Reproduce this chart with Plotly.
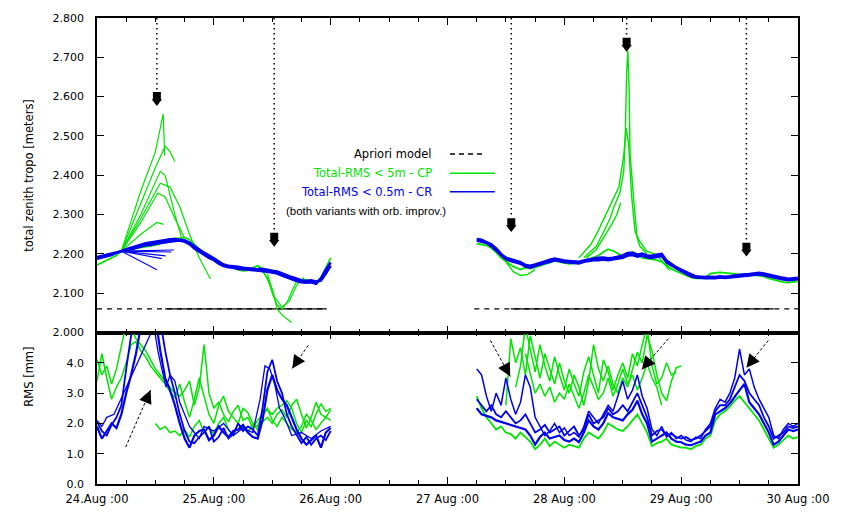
import plotly.graph_objects as go

# ---------------- data ----------------
# time axis: hours after 24 Aug 00:00
HOURS_A = list(range(0, 49))      # first processing window
HOURS_B = list(range(78, 145))    # second processing window

DAY_TICKS = [0, 24, 48, 72, 96, 120, 144]
DAY_LABELS = ["24.Aug :00", "25.Aug :00", "26.Aug :00", "27 Aug :00",
              "28 Aug :00", "29 Aug :00", "30 Aug :00"]
SIX_HOUR_TICKS = [6, 12, 18, 30, 36, 42, 54, 60, 66, 78, 84, 90,
                  102, 108, 114, 126, 132, 138]
TROPO_TICKS = [2.0, 2.1, 2.2, 2.3, 2.4, 2.5, 2.6, 2.7, 2.8]
TROPO_LABELS = ["2.000", "2.100", "2.200", "2.300", "2.400", "2.500", "2.600", "2.700", "2.800"]
RMS_TICKS = [0, 1, 2, 3, 4]
RMS_LABELS = ["0.0", "1.0", "2.0", "3.0", "4.0"]

# total zenith troposphere [m], CR solutions (blue), window A
tropo_cr_a1 = [2.188, 2.191, 2.195, 2.197, 2.203, 2.207, 2.208, 2.212, 2.215, 2.219,
               2.222, 2.223, 2.226, 2.228, 2.229, 2.232, 2.233, 2.234, 2.231, 2.225,
               2.214, 2.206, 2.197, 2.190, 2.184, 2.175, 2.169, 2.166, 2.165, 2.162,
               2.161, 2.160, 2.158, 2.158, 2.157, 2.155, 2.153, 2.150, 2.145, 2.140,
               2.135, 2.131, 2.128, 2.127, 2.128, 2.124, 2.138, 2.160, 2.178]
tropo_cr_a2 = [2.192, 2.195, 2.199, 2.202, 2.205, 2.207, 2.212, 2.216, 2.220, 2.223,
               2.227, 2.229, 2.231, 2.234, 2.236, 2.237, 2.238, 2.237, 2.235, 2.229,
               2.220, 2.210, 2.203, 2.196, 2.188, 2.180, 2.173, 2.170, 2.169, 2.167,
               2.165, 2.164, 2.163, 2.161, 2.162, 2.159, 2.157, 2.155, 2.151, 2.146,
               2.141, 2.136, 2.133, 2.131, 2.133, 2.130, 2.132, 2.150, 2.170]
# CP solutions (green), window A
tropo_cp_a1 = [2.172, 2.178, 2.185, 2.190, 2.196, 2.207, 2.210, 2.212, 2.214, 2.216,
               2.218, 2.220, 2.222, 2.226, 2.232, 2.236, 2.240, 2.240, 2.242, 2.236,
               2.225, 2.210, 2.200, 2.192, 2.190, 2.180, 2.172, 2.168, 2.163, 2.160,
               2.157, 2.158, 2.165, 2.170, 2.162, 2.155, 2.158, 2.152, 2.146, 2.140,
               2.136, 2.130, 2.132, 2.135, 2.131, 2.127, 2.140, 2.165, 2.190]

# short CR runs ending early in window A (start at hour 5)
cr_fan_end_hours = [15.8, 15.3, 14.1, 13.3, 12.3]
cr_fan_end_values = [2.210, 2.205, 2.195, 2.188, 2.160]

# CP runs running away on 24 Aug
cp_peak_hours = [[5, 9, 12, 13.6, 13.9],
                 [5, 9, 12, 14, 15, 16],
                 [5, 9, 13, 14, 16, 17.5],
                 [5, 9, 13, 15, 17, 19, 21, 23.3],
                 [5, 9, 12.5, 14, 16, 18],
                 [5, 9, 12.3, 13.7]]
cp_peak_values = [[2.207, 2.36, 2.46, 2.556, 2.45],
                  [2.207, 2.33, 2.42, 2.474, 2.46, 2.435],
                  [2.207, 2.30, 2.41, 2.40, 2.30, 2.235],
                  [2.207, 2.29, 2.38, 2.37, 2.32, 2.25, 2.19, 2.136],
                  [2.207, 2.28, 2.355, 2.345, 2.29, 2.24],
                  [2.207, 2.25, 2.28, 2.275]]
# CP runs dropping on 25 Aug
cp_dip_hours = [[33, 35, 36, 37, 38, 39, 40, 41],
                [34, 36, 37, 38, 39, 40],
                [35, 36.5, 38, 39.5, 41, 42.5]]
cp_dip_values = [[2.17, 2.14, 2.10, 2.07, 2.06, 2.075, 2.105, 2.13],
                 [2.16, 2.11, 2.06, 2.045, 2.035, 2.025],
                 [2.15, 2.09, 2.065, 2.08, 2.12, 2.14]]

# window B
tropo_cr_b1 = [2.234, 2.231, 2.228, 2.220, 2.209, 2.196, 2.186, 2.182, 2.178, 2.175,
               2.168, 2.165, 2.169, 2.174, 2.177, 2.180, 2.184, 2.182, 2.179, 2.178,
               2.177, 2.176, 2.180, 2.182, 2.184, 2.184, 2.186, 2.184, 2.186, 2.188,
               2.190, 2.196, 2.197, 2.193, 2.196, 2.191, 2.190, 2.192, 2.195, 2.178,
               2.170, 2.162, 2.156, 2.150, 2.143, 2.140, 2.139, 2.138, 2.139, 2.138,
               2.140, 2.139, 2.140, 2.141, 2.142, 2.144, 2.145, 2.147, 2.148, 2.146,
               2.143, 2.140, 2.138, 2.135, 2.133, 2.135, 2.136]
tropo_cr_b2 = [2.238, 2.236, 2.230, 2.224, 2.214, 2.200, 2.190, 2.186, 2.183, 2.179,
               2.172, 2.170, 2.173, 2.178, 2.181, 2.185, 2.188, 2.186, 2.183, 2.182,
               2.181, 2.180, 2.183, 2.186, 2.188, 2.190, 2.191, 2.189, 2.190, 2.193,
               2.196, 2.202, 2.203, 2.198, 2.201, 2.196, 2.195, 2.198, 2.200, 2.183,
               2.174, 2.166, 2.160, 2.154, 2.147, 2.143, 2.142, 2.141, 2.142, 2.141,
               2.143, 2.142, 2.143, 2.145, 2.146, 2.148, 2.149, 2.151, 2.152, 2.150,
               2.147, 2.144, 2.141, 2.139, 2.137, 2.138, 2.139]
tropo_cp_b1 = [2.226, 2.224, 2.222, 2.215, 2.204, 2.190, 2.180, 2.172, 2.165, 2.160,
               2.165, 2.163, 2.166, 2.171, 2.174, 2.178, 2.182, 2.180, 2.177, 2.175,
               2.176, 2.178, 2.182, 2.186, 2.190, 2.196, 2.205, 2.212, 2.208, 2.200,
               2.194, 2.198, 2.205, 2.200, 2.190, 2.188, 2.186, 2.184, 2.180, 2.170,
               2.162, 2.156, 2.150, 2.145, 2.140, 2.138, 2.138, 2.140, 2.150, 2.152,
               2.153, 2.152, 2.151, 2.150, 2.148, 2.146, 2.145, 2.146, 2.145, 2.143,
               2.138, 2.135, 2.132, 2.128, 2.127, 2.129, 2.130]
cp_low_hours = [84, 85.5, 87, 88.5, 90]
cp_low_values = [2.18, 2.155, 2.145, 2.148, 2.16]
# CP runs during the 28/29 Aug storm
cp_spike_hours = [[100, 102.6, 104.1, 105.4, 106.2, 107.4, 108.2, 108.5, 108.8, 109.05,
                   109.3, 109.5, 110.3, 110.9, 111.5, 112.9, 115, 117.6],
                  [99, 101.5, 103, 104.5, 106, 107.2, 108.2, 108.7, 109.2, 109.8,
                   110.5, 111.5, 113],
                  [100.5, 102.5, 104, 105.5, 106.8, 107.6]]
cp_spike_values = [[2.19, 2.22, 2.257, 2.29, 2.32, 2.355, 2.41, 2.49, 2.66, 2.716,
                    2.62, 2.454, 2.33, 2.247, 2.232, 2.207, 2.198, 2.158],
                   [2.19, 2.225, 2.26, 2.30, 2.34, 2.37, 2.45, 2.52, 2.48, 2.35,
                    2.26, 2.22, 2.20],
                   [2.19, 2.21, 2.24, 2.27, 2.30, 2.33]]

# a priori model
APRIORI_LEVEL = 2.06
apriori_spans = [[0, 47.2], [77.5, 144]]
apriori_overlap_spans = [[14, 47.2], [85, 139]]

# RMS [mm], window A
rms_cr_a1 = [1.90, 1.50, 1.75, 2.00, 1.85, 2.30, 3.00, 3.60, 4.30, 5.20,
             5.60, 5.80, 5.50, 4.40, 3.50, 3.10, 2.60, 2.00, 1.50, 1.20,
             1.60, 1.75, 1.80, 1.45, 1.60, 1.90, 1.70, 1.55, 1.75, 1.80,
             1.95, 1.70, 1.55, 1.50, 2.10, 3.10, 3.60, 3.10, 2.80, 2.60,
             2.20, 1.80, 1.50, 1.30, 1.45, 1.60, 1.20, 1.70, 1.85]
rms_cr_a2 = [2.05, 1.75, 1.60, 1.95, 2.20, 2.60, 3.80, 4.90, 5.50, 5.60,
             5.40, 5.30, 5.60, 5.40, 4.40, 3.60, 3.00, 2.30, 1.75, 1.40,
             1.35, 1.55, 1.70, 1.90, 1.40, 1.55, 1.85, 1.50, 1.65, 2.00,
             1.75, 1.90, 1.80, 1.60, 2.50, 3.70, 4.10, 3.40, 3.00, 2.30,
             1.90, 1.60, 1.35, 1.55, 1.30, 1.50, 1.60, 1.45, 1.75]
rms_cr_a3_hours = [0, 1, 2, 3.5, 11.7, 12.5, 13.3, 14.2, 15, 16, 17, 18, 19, 20, 21, 22,
                   24, 26, 28, 30, 32, 33.5, 34.5, 35.5, 36.5, 37.5, 38.5, 40, 42, 44, 46, 48]
rms_cr_a3 = [2.10, 1.90, 2.20, 2.30, 5.20, 4.40, 3.80, 3.20, 3.60, 3.40, 2.70, 2.30, 1.90, 1.70, 1.50, 1.90,
             1.75, 2.00, 1.60, 1.85, 1.70, 2.80, 3.90, 3.80, 3.30, 2.50, 2.20, 1.60, 1.70, 1.50, 1.75, 1.90]
rms_cp_a1 = [4.10, 3.60, 3.90, 3.30, 3.80, 4.50, 5.30, 5.10, 4.80, 4.60,
             4.40, 4.10, 3.80, 3.60, 3.40, 3.20, 3.00, 2.90, 3.10, 3.40,
             2.60, 3.20, 4.60, 3.00, 2.50, 2.70, 2.30, 2.05, 2.40, 2.60,
             2.10, 2.20, 1.85, 2.10, 2.30, 2.45, 2.30, 2.50, 2.60, 2.75,
             2.50, 2.00, 1.70, 2.10, 1.90, 2.30, 2.65, 2.40, 2.50]
rms_cp_a2 = [3.40, 4.30, 3.50, 2.80, 3.20, 3.50, 4.00, 4.60, 4.70, 4.40,
             4.20, 3.90, 3.70, 3.50, 3.30, 3.05, 2.85, 3.30, 2.70, 2.20,
             2.80, 3.50, 2.90, 2.30, 2.00, 2.60, 2.90, 2.40, 2.20, 2.00,
             2.50, 2.35, 2.00, 1.80, 2.05, 2.20, 2.00, 2.30, 2.45, 2.20,
             2.60, 2.80, 2.30, 1.85, 2.20, 2.70, 2.30, 2.20, 2.45]
rms_cp_a3_hours = list(range(12, 49))
rms_cp_a3 = [2.00, 1.80, 1.90, 1.70, 1.75, 1.60, 1.80, 1.55, 1.90, 2.10,
             1.70, 1.90, 1.65, 2.00, 2.20, 1.80, 1.60, 2.00, 1.85, 1.70,
             2.00, 1.90, 2.30, 2.50, 2.10, 1.90, 2.20, 2.00, 1.80, 1.70,
             1.90, 2.30, 2.10, 1.80, 2.00, 2.20, 2.10]

# RMS [mm], window B
rms_cr_b1 = [2.50, 2.30, 2.25, 2.20, 2.10, 2.05, 2.00, 1.95, 1.90, 1.85,
             1.80, 1.60, 1.30, 1.55, 1.70, 1.50, 1.55, 1.60, 1.45, 1.40,
             1.50, 1.38, 1.70, 2.10, 1.90, 1.80, 2.00, 2.34, 2.20, 2.15,
             2.10, 2.30, 2.45, 2.75, 2.30, 2.00, 1.40, 1.50, 1.60, 1.70,
             1.50, 1.40, 1.38, 1.30, 1.28, 1.35, 1.40, 1.60, 1.70, 2.30,
             2.40, 2.50, 2.66, 2.90, 3.10, 3.30, 2.70, 2.50, 2.30, 2.00,
             1.70, 1.30, 1.40, 1.60, 1.80, 1.75, 1.80]
rms_cr_b2 = [3.80, 3.60, 2.90, 2.40, 3.00, 2.60, 3.50, 2.80, 2.30, 2.70,
             3.60, 3.20, 2.20, 1.90, 1.60, 1.75, 2.00, 1.70, 1.85, 1.60,
             1.70, 1.55, 1.90, 2.40, 2.20, 2.00, 2.30, 2.60, 2.40, 2.90,
             3.40, 2.80, 3.10, 3.60, 2.90, 2.50, 1.80, 1.60, 1.90, 1.55,
             1.70, 1.50, 1.60, 1.45, 1.40, 1.55, 1.50, 1.80, 2.00, 2.50,
             2.80, 2.70, 3.00, 3.50, 4.45, 3.60, 3.80, 3.20, 2.80, 2.50,
             2.20, 1.60, 1.50, 1.80, 2.00, 1.90, 2.00]
rms_cr_b3 = [2.80, 2.60, 2.40, 2.60, 2.30, 2.20, 2.40, 2.20, 2.00, 2.10,
             2.30, 2.00, 1.70, 1.80, 1.95, 1.70, 1.80, 1.90, 1.60, 1.75,
             1.90, 1.60, 1.80, 2.30, 2.00, 2.10, 2.20, 2.50, 2.30, 2.40,
             2.60, 2.40, 2.70, 3.00, 2.60, 2.20, 1.60, 1.75, 1.80, 1.60,
             1.65, 1.55, 1.50, 1.55, 1.45, 1.50, 1.60, 1.75, 1.90, 2.40,
             2.60, 2.60, 2.80, 3.20, 3.60, 3.40, 3.00, 2.80, 2.60, 2.20,
             1.90, 1.50, 1.60, 1.70, 1.90, 1.85, 1.90]
rms_cp_b1 = [2.90, 2.50, 2.20, 2.00, 1.80, 1.90, 1.70, 1.65, 1.50, 1.70,
             1.55, 1.40, 1.15, 1.30, 1.50, 1.25, 1.40, 1.30, 1.20, 1.30,
             1.25, 1.20, 1.50, 1.70, 1.60, 1.50, 1.70, 2.00, 1.90, 1.80,
             1.75, 1.90, 2.10, 2.30, 2.00, 1.70, 1.25, 1.35, 1.40, 1.50,
             1.30, 1.25, 1.20, 1.20, 1.15, 1.25, 1.30, 1.50, 1.60, 2.10,
             2.30, 2.40, 2.55, 2.75, 2.90, 2.70, 2.50, 2.30, 2.10, 1.80,
             1.50, 1.20, 1.30, 1.45, 1.60, 1.50, 1.55]
rms_cp_b2_hours = list(range(84, 121))
rms_cp_b2 = [2.60, 4.80, 4.00, 4.50, 3.60, 4.90, 4.20, 3.50, 4.30, 3.80,
             3.30, 4.00, 3.40, 3.00, 3.60, 3.20, 2.60, 3.40, 4.60, 3.80,
             3.40, 3.90, 3.30, 3.00, 3.50, 3.20, 3.80, 4.35, 4.00, 4.90,
             4.40, 3.60, 3.00, 2.75, 3.40, 3.84, 3.90]
rms_cp_b3_hours = list(range(86, 120))
rms_cp_b3 = [3.20, 3.90, 5.20, 4.40, 3.70, 4.60, 3.90, 3.40, 4.20, 3.60,
             3.10, 3.80, 3.30, 2.90, 3.70, 4.20, 3.60, 3.00, 4.10, 3.70,
             3.10, 3.60, 4.00, 3.50, 4.30, 3.90, 4.60, 5.20, 3.90, 3.30,
             3.50, 4.00, 3.60, 3.70]
rms_cp_b4_hours = list(range(88, 117))
rms_cp_b4 = [4.30, 3.60, 3.00, 3.30, 2.90, 3.20, 2.70, 3.00, 2.80, 3.30,
             2.90, 2.50, 3.00, 3.60, 3.20, 2.80, 3.00, 3.50, 2.90, 3.30,
             3.80, 3.30, 3.60, 3.10, 3.50, 4.00, 3.50, 3.20, 2.60]

# events: hour and tropo level of the marker tip
event_hours = [12.3, 36.4, 85.1, 108.8, 133.4]
event_tips = [2.578, 2.220, 2.257, 2.716, 2.195]
# RMS pointers: tail (hour, mm) -> head (hour, mm)
pointer_tails = [(5.9, 1.22), (43.4, 4.58), (80.8, 4.74), (117.4, 4.80), (137.9, 4.74)]
pointer_heads = [(11.0, 3.10), (40.1, 3.81), (84.9, 3.55), (111.9, 3.78), (133.4, 3.84)]

# ---------------- styling / geometry ----------------
GREEN = "rgb(0,228,0)"
BLUE = "rgb(0,0,238)"
W, H = 841, 518
ML, MR, MT, MB = 97, 39, 13, 25
PW = W - ML - MR
PH = H - MT - MB
SPLIT = 0.325
TOP_PX_PER_UNIT = PH * (1 - SPLIT) / 0.8
BOT_PX_PER_MM = PH * SPLIT / 5.0
PX_PER_HOUR = PW / 144.0
TICK_FONT = dict(family="DejaVu Sans", size=11, color="black")


def paper_x(px):
    return (px - ML) / PW


def paper_y(py):
    return (H - MB - py) / PH


fig = go.Figure()


def add_line(x, y, color, width, panel="top", dash=None):
    xa, ya = ("x", "y") if panel == "top" else ("x2", "y2")
    fig.add_trace(go.Scatter(x=x, y=y, mode="lines",
                             line=dict(color=color, width=width, dash=dash),
                             xaxis=xa, yaxis=ya, showlegend=False, hoverinfo="skip"))


# a priori model
for a, b in apriori_spans:
    add_line([a, b], [APRIORI_LEVEL, APRIORI_LEVEL], "black", 1.3, dash="5px,5px")
for a, b in apriori_overlap_spans:
    add_line([a, b], [APRIORI_LEVEL, APRIORI_LEVEL], "black", 1.3)

# ---- top panel: CP (green) first, CR (blue) on top ----
add_line(HOURS_A, tropo_cp_a1, GREEN, 1.6)
for hh, vv in zip(cp_peak_hours, cp_peak_values):
    add_line(hh, vv, GREEN, 1.2)
for hh, vv in zip(cp_dip_hours, cp_dip_values):
    add_line(hh, vv, GREEN, 1.2)
add_line(HOURS_B, tropo_cp_b1, GREEN, 1.8)
add_line(cp_low_hours, cp_low_values, GREEN, 1.4)
for hh, vv in zip(cp_spike_hours, cp_spike_values):
    add_line(hh, vv, GREEN, 1.4)

for eh, ev in zip(cr_fan_end_hours, cr_fan_end_values):
    add_line([HOURS_A[5], eh], [tropo_cr_a1[5], ev], BLUE, 1.1)
add_line(HOURS_A, tropo_cr_a1, BLUE, 2.6)
add_line(HOURS_A, tropo_cr_a2, BLUE, 2.6)
add_line(HOURS_B, tropo_cr_b1, BLUE, 2.6)
add_line(HOURS_B, tropo_cr_b2, BLUE, 2.6)

# ---- bottom panel: RMS ----
add_line(HOURS_A, rms_cp_a1, GREEN, 1.5, "bot")
add_line(HOURS_A, rms_cp_a2, GREEN, 1.5, "bot")
add_line(rms_cp_a3_hours, rms_cp_a3, GREEN, 1.5, "bot")
add_line(HOURS_B, rms_cp_b1, GREEN, 1.8, "bot")
add_line(rms_cp_b2_hours, rms_cp_b2, GREEN, 1.5, "bot")
add_line(rms_cp_b3_hours, rms_cp_b3, GREEN, 1.5, "bot")
add_line(rms_cp_b4_hours, rms_cp_b4, GREEN, 1.5, "bot")

add_line(rms_cr_a3_hours, rms_cr_a3, BLUE, 1.3, "bot")
add_line(HOURS_A, rms_cr_a2, BLUE, 1.8, "bot")
add_line(HOURS_A, rms_cr_a1, BLUE, 2.2, "bot")
add_line(HOURS_B, rms_cr_b2, BLUE, 1.5, "bot")
add_line(HOURS_B, rms_cr_b3, BLUE, 1.8, "bot")
add_line(HOURS_B, rms_cr_b1, BLUE, 2.2, "bot")

# ---- event markers: dotted line from the top down to a pointer ----
unit = 1.0 / TOP_PX_PER_UNIT
shapes = []
for eh, tip in zip(event_hours, event_tips):
    shapes.append(dict(type="line", xref="x", yref="y", x0=eh, x1=eh,
                       y0=2.8, y1=tip + 14 * unit,
                       line=dict(color="black", width=1.5, dash="1.5px,3.5px")))
fig.add_trace(go.Scatter(x=event_hours, y=[t + 9.5 * unit for t in event_tips], mode="markers",
                         marker=dict(symbol="square", size=8, color="black"),
                         xaxis="x", yaxis="y", showlegend=False, hoverinfo="skip"))
fig.add_trace(go.Scatter(x=event_hours, y=[t + 4 * unit for t in event_tips], mode="markers",
                         marker=dict(symbol="triangle-down", size=9, color="black"),
                         xaxis="x", yaxis="y", showlegend=False, hoverinfo="skip"))

# ---- RMS pointers: dashed shaft plus filled head ----
annotations = []
for (th, tv), (hh, hv) in zip(pointer_tails, pointer_heads):
    shapes.append(dict(type="line", xref="x2", yref="y2", x0=th, y0=tv, x1=hh, y1=hv,
                       line=dict(color="black", width=1, dash="3px,2px")))
    dx = (th - hh) * PX_PER_HOUR
    dy = (tv - hv) * BOT_PX_PER_MM
    n = (dx * dx + dy * dy) ** 0.5
    annotations.append(dict(x=hh, y=hv, xref="x2", yref="y2", text="", showarrow=True,
                            ax=dx / n * 13, ay=-dy / n * 13, arrowhead=2, arrowsize=1.1,
                            arrowwidth=2.4, arrowcolor="black"))

# heavy separator between the panels
shapes.append(dict(type="line", xref="paper", yref="paper", x0=0, x1=1, y0=SPLIT, y1=SPLIT,
                   line=dict(color="black", width=3)))

# ---- key ----
key_rows = [("Apriori model", "black", 153, "5px,4px"),
            ("Total-RMS < 5m - CP", GREEN, 173, None),
            ("Total-RMS < 0.5m - CR", BLUE, 192, None)]
for text, col, py, dash in key_rows:
    annotations.append(dict(x=paper_x(436), y=paper_y(py), xref="paper", yref="paper",
                            text=text, showarrow=False, xanchor="right", yanchor="middle",
                            font=dict(family="DejaVu Sans", size=11.5, color=col)))
    shapes.append(dict(type="line", xref="paper", yref="paper",
                       x0=paper_x(452), x1=paper_x(488 if dash else 497),
                       y0=paper_y(py), y1=paper_y(py),
                       line=dict(color=col, width=1.5, dash=dash)))
annotations.append(dict(x=paper_x(368), y=paper_y(212), xref="paper", yref="paper",
                        text="(both variants with orb. improv.)", showarrow=False,
                        xanchor="center", yanchor="middle",
                        font=dict(family="Liberation Sans", size=11.5, color="black")))

# axis titles
annotations.append(dict(x=paper_x(20), y=paper_y(175), xref="paper", yref="paper",
                        text="total zenith tropo [meters]", textangle=-90, showarrow=False,
                        font=dict(family="DejaVu Sans", size=11.5, color="black")))
annotations.append(dict(x=paper_x(20), y=paper_y(415), xref="paper", yref="paper",
                        text="RMS [mm]", textangle=-90, showarrow=False,
                        font=dict(family="DejaVu Sans", size=11.5, color="black")))

axis_common = dict(showline=True, linecolor="black", linewidth=1.5, mirror="ticks",
                   ticks="inside", tickcolor="black", tickwidth=1.2, showgrid=False,
                   zeroline=False, tickfont=TICK_FONT)
minor_x = dict(tickvals=SIX_HOUR_TICKS, ticks="inside", ticklen=4, tickwidth=1.2,
               tickcolor="black", showgrid=False)

fig.update_layout(
    width=W, height=H,
    margin=dict(l=ML, r=MR, t=MT, b=MB),
    paper_bgcolor="white", plot_bgcolor="white",
    showlegend=False,
    xaxis=dict(domain=[0, 1], range=[0, 144], anchor="y", tickvals=DAY_TICKS,
               showticklabels=False, ticklen=7, minor=minor_x, **axis_common),
    xaxis2=dict(domain=[0, 1], range=[0, 144], anchor="y2", tickvals=DAY_TICKS,
                ticktext=DAY_LABELS, ticklen=7, minor=minor_x, ticklabelstandoff=3,
                **{**axis_common, "tickfont": dict(family="DejaVu Sans", size=11.5, color="black")}),
    yaxis=dict(domain=[SPLIT, 1], range=[2.0, 2.8], tickvals=TROPO_TICKS, ticktext=TROPO_LABELS,
               ticklen=7, ticklabelstandoff=9, **axis_common),
    yaxis2=dict(domain=[0, SPLIT], range=[0, 5], tickvals=RMS_TICKS, ticktext=RMS_LABELS,
                ticklen=7, ticklabelstandoff=9, **axis_common),
    shapes=shapes,
    annotations=annotations,
)

fig.write_html("out.html")
